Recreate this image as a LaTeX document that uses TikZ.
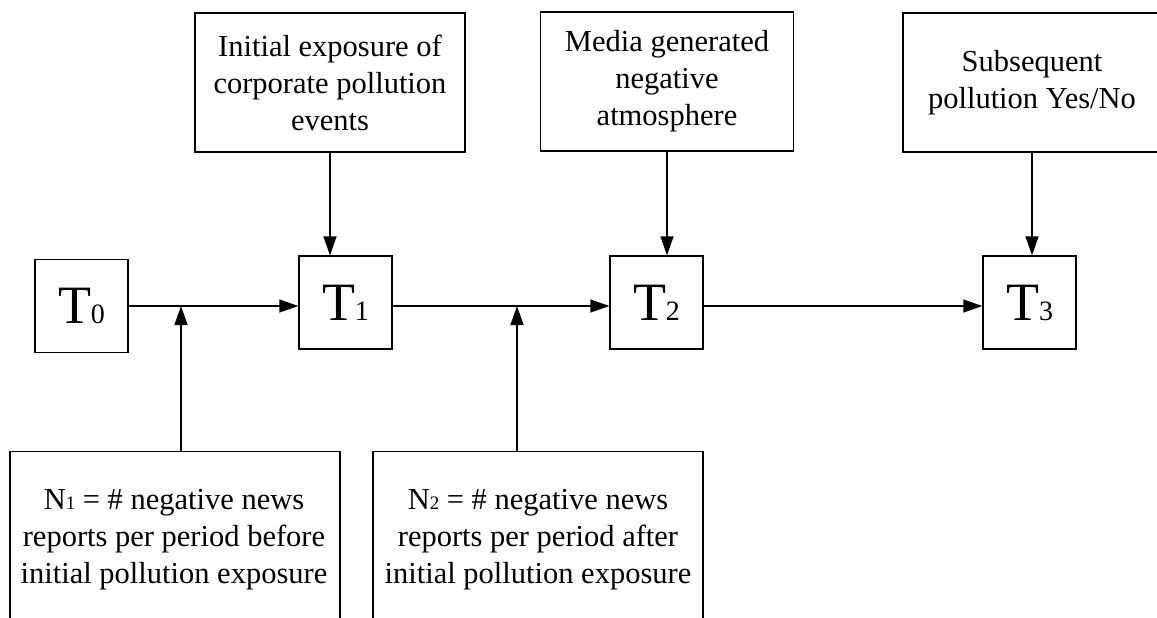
\documentclass[tikz,border=0pt]{standalone}
\usepackage{fontspec}
\setmainfont{Liberation Serif}
\usetikzlibrary{arrows.meta}
\newcommand\bigsub[1]{{\fontsize{28}{28}\selectfont #1}}
\newcommand\smallsub[1]{{\fontsize{19}{19}\selectfont #1}}
\begin{document}
\begin{tikzpicture}[x=1pt,y=-1pt,
  every node/.style={font=\fontsize{30.5}{37}\selectfont},
  boxnode/.style={draw, line width=1.3pt, inner sep=0pt, align=center},
  tbox/.style={draw, line width=1.3pt, minimum width=93pt, minimum height=93pt, inner sep=0pt, font=\fontsize{54}{54}\selectfont},
  arr/.style={line width=1.3pt, -{Triangle[length=19pt,width=13pt]}},
  txt/.style={inner sep=0pt, align=center}]
\useasboundingbox (0,0) rectangle (1157,618);

% time boxes
\node[tbox] (T0) at (81.5,306) {T\bigsub{0}};
\node[tbox] (T1) at (345.5,302.5) {T\bigsub{1}};
\node[tbox] (T2) at (656.5,302.5) {T\bigsub{2}};
\node[tbox] (T3) at (1029.5,302.5) {T\bigsub{3}};

% top boxes
\node[boxnode, minimum width=270pt, minimum height=139pt] (top1) at (330,82.5)
  {Initial exposure of\\corporate pollution\\events};
\node[boxnode, minimum width=253pt, minimum height=139pt] (top2) at (667,81.5)
  {Media generated\\negative\\atmosphere};
\node[boxnode, minimum width=258pt, minimum height=139pt] (top3) at (1032,82.5)
  {Subsequent\\pollution Yes/No};

% bottom boxes
\node[boxnode, minimum width=330pt, minimum height=200pt, anchor=north] (n1) at (175,451) {};
\node[boxnode, minimum width=330pt, minimum height=200pt, anchor=north] (n2) at (538,451) {};
\node[txt, anchor=north] (n1t) at (174,489)
  {N\smallsub{1} = \# negative news\\reports per period before\\initial pollution exposure};
\node[txt, anchor=north] (n2t) at (538,489)
  {N\smallsub{2} = \# negative news\\reports per period after\\initial pollution exposure};

% junctions on main line
\coordinate (j1) at (181,306);
\coordinate (j2) at (517,306);

% main line arrows
\draw[arr] (T0.east) -- (T0.east -| T1.west);
\draw[arr] (T1.east |- T0) -- (T2.west |- T0);
\draw[arr] (T2.east |- T0) -- (T3.west |- T0);

% down arrows
\draw[arr] (top1.south) -- (top1.south |- T1.north);
\draw[arr] (top2.south) -- (top2.south |- T2.north);
\draw[arr] (top3.south) -- (top3.south |- T3.north);

% up arrows
\draw[arr] (j1 |- n1.north) -- (j1);
\draw[arr] (j2 |- n2.north) -- (j2);
\end{tikzpicture}
\end{document}
